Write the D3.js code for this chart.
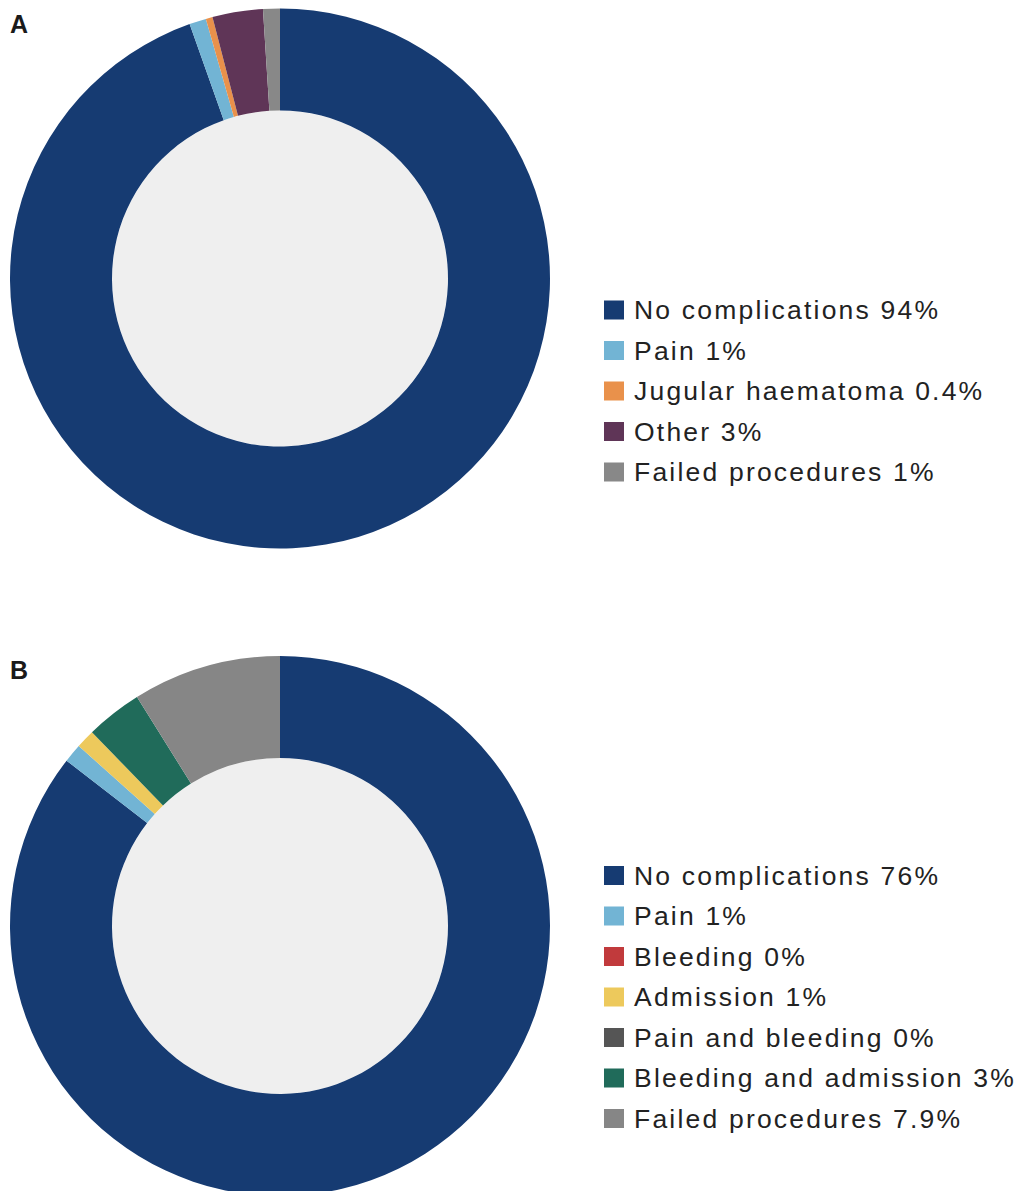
<!DOCTYPE html>
<html><head><meta charset="utf-8">
<script src="https://cdn.jsdelivr.net/npm/d3@7"></script>
<style>body{margin:0;background:#fff;}svg{display:block;}</style>
</head><body>
<script>
const catsA = ["No complications", "Pain", "Jugular haematoma", "Other", "Failed procedures"];
const valsA = [94, 1, 0.4, 3, 1];
const labelsA = ["94%", "1%", "0.4%", "3%", "1%"];
const colorsA = ["#163b72", "#72b4d4", "#e9914b", "#5f3557", "#888888"];

const catsB = ["No complications", "Pain", "Bleeding", "Admission", "Pain and bleeding", "Bleeding and admission", "Failed procedures"];
const valsB = [76, 1, 0, 1, 0, 3, 7.9];
const labelsB = ["76%", "1%", "0%", "1%", "0%", "3%", "7.9%"];
const colorsB = ["#163b72", "#72b4d4", "#c13a3c", "#edc95c", "#555555", "#206b5a", "#868686"];

const W = 1018, H = 1191;
const svg = d3.select("body").append("svg").attr("width", W).attr("height", H);

function panel(letter, letterY, cx, cy, cats, vals, labels, colors, legendY) {
  svg.append("text").attr("x", 10).attr("y", letterY)
    .attr("font-family", "Liberation Sans, Arial, sans-serif")
    .attr("font-weight", "bold").attr("font-size", 25).attr("fill", "#1a1a1a").text(letter);
  const data = cats.map((c, i) => ({c, v: vals[i], col: colors[i], lab: labels[i]}));
  const pie = d3.pie().value(d => d.v).sort(null);
  const arc = d3.arc().innerRadius(168).outerRadius(270);
  const g = svg.append("g").attr("transform", `translate(${cx},${cy})`);
  g.append("circle").attr("r", 168).attr("fill", "#efefef");
  g.selectAll("path").data(pie(data)).enter().append("path")
    .attr("d", arc).attr("fill", d => d.data.col);
  const lg = svg.append("g");
  const rows = lg.selectAll("g").data(data).enter().append("g")
    .attr("transform", (d, i) => `translate(604,${legendY + i * 40.5})`);
  rows.append("rect").attr("x", 0).attr("y", -9.5).attr("width", 20).attr("height", 19)
    .attr("fill", d => d.col);
  rows.append("text").attr("x", 30).attr("y", 9)
    .attr("font-family", "Liberation Sans, Arial, sans-serif")
    .attr("font-size", 26.5).attr("letter-spacing", 2.2).attr("fill", "#222")
    .text(d => d.c + " " + d.lab);
}

panel("A", 33, 280, 278.5, catsA, valsA, labelsA, colorsA, 310);
panel("B", 679, 280, 926, catsB, valsB, labelsB, colorsB, 875.5);
</script>
</body></html>
